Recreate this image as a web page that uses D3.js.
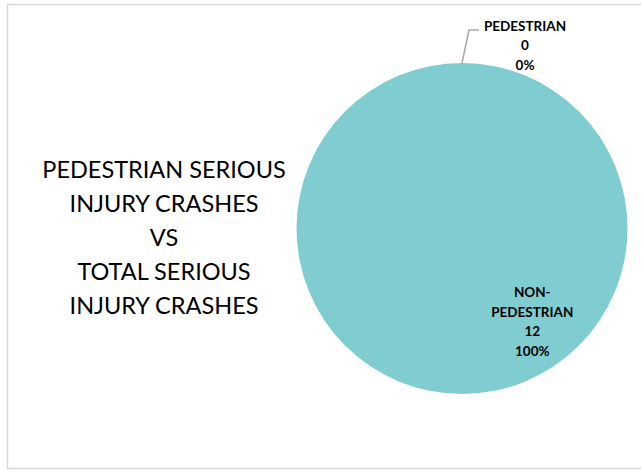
<!DOCTYPE html>
<html>
<head>
<meta charset="utf-8">
<script src="https://cdn.jsdelivr.net/npm/d3@7"></script>
<style>
  html, body { margin: 0; padding: 0; background: #fff; }
  svg { display: block; }
</style>
</head>
<body>
<div class="chart"></div>
<script>
// data
const categories = ["PEDESTRIAN", "NON-PEDESTRIAN"];
const values = [0, 12];
const titleLines = [
    "PEDESTRIAN SERIOUS",
    "INJURY CRASHES",
    "VS",
    "TOTAL SERIOUS",
    "INJURY CRASHES",
];

const w = 641;
const h = 471;
const cx = 462;
const cy = 228.5;
const radius = 165.5;
const sliceColors = ["#4472c4", "#7fcdd1"];

const svg = d3
    .select(".chart")
    .append("svg")
    .attr("width", w)
    .attr("height", h);

// chart area border
svg.append("rect")
    .attr("x", 7.5)
    .attr("y", 4.5)
    .attr("width", w)
    .attr("height", 464)
    .attr("fill", "#fff")
    .attr("stroke", "#d9d9d9")
    .attr("stroke-width", 1.5);

// title on the left
svg.append("g")
    .selectAll("text")
    .data(titleLines)
    .join("text")
    .attr("x", 164)
    .attr("y", (d, i) => 177.5 + i * 34)
    .attr("text-anchor", "middle")
    .attr("font-family", "Lato, 'Liberation Sans', sans-serif")
    .attr("font-size", 23.5)
    .attr("fill", "#000")
    .text((d) => d);

const pie = d3.pie().sort(null).value((d) => d);
const arcs = pie(values);

const arc = d3.arc().innerRadius(0).outerRadius(radius);

const g = svg.append("g").attr("transform", `translate(${cx},${cy})`);

g.selectAll("path")
    .data(arcs)
    .join("path")
    .attr("d", arc)
    .attr("fill", (d, i) => sliceColors[i]);

const total = d3.sum(values);
const fmtPct = d3.format(".0%");

function labelLines(i) {
    const name = categories[i];
    const parts = name.includes("-")
        ? [name.slice(0, name.indexOf("-") + 1), name.slice(name.indexOf("-") + 1)]
        : [name];
    return parts.concat([String(values[i]), fmtPct(values[i] / total)]);
}

const labelFont = "Lato, 'Liberation Sans', sans-serif";
const labelSize = 13.5;
const lineStep = 19.5;

// zero slice: label outside with leader line
const zero = arcs[0];
const edge = d3.arc().innerRadius(radius).outerRadius(radius).centroid(zero);
const elbow = [edge[0] + 7, edge[1] - 33];
const tail = [elbow[0] + 10, elbow[1]];

g.append("polyline")
    .attr("points", [edge, elbow, tail].map((p) => p.join(",")).join(" "))
    .attr("fill", "none")
    .attr("stroke", "#a6a6a6")
    .attr("stroke-width", 1.5);

g.append("g")
    .selectAll("text")
    .data(labelLines(0))
    .join("text")
    .attr("x", tail[0] + 46)
    .attr("y", (d, i) => tail[1] + 0.5 + i * lineStep)
    .attr("text-anchor", "middle")
    .attr("font-family", labelFont)
    .attr("font-weight", "bold")
    .attr("font-size", labelSize)
    .attr("fill", "#000")
    .text((d) => d);

// full slice: label inside (best fit position)
const inside = d3
    .arc()
    .innerRadius(radius * 0.7)
    .outerRadius(radius * 0.7)
    .startAngle(2.49)
    .endAngle(2.49)
    .centroid();

const lines = labelLines(1);
g.append("g")
    .selectAll("text")
    .data(lines)
    .join("text")
    .attr("x", inside[0])
    .attr("y", (d, i) => inside[1] + 6 + (i - (lines.length - 1) / 2) * lineStep)
    .attr("text-anchor", "middle")
    .attr("font-family", labelFont)
    .attr("font-weight", "bold")
    .attr("font-size", labelSize)
    .attr("fill", "#000")
    .text((d) => d);
</script>
</body>
</html>
